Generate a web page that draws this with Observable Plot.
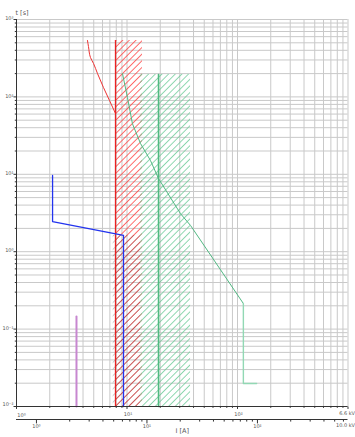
<!DOCTYPE html>
<html><head><meta charset="utf-8">
<script src="https://cdn.jsdelivr.net/npm/d3@7"></script>
<script src="https://cdn.jsdelivr.net/npm/@observablehq/plot@0.6"></script>
<style>body{margin:0;background:#fff} svg{display:block}</style>
</head><body><div id="chart"></div>
<script>
// ---- data (current I [A] at 6.6 kV, time t [s]) ----
const redCurve = [
  {i: 4.39, t: 535}, {i: 4.48, t: 448}, {i: 4.67, t: 323}, {i: 4.98, t: 270},
  {i: 5.41, t: 200}, {i: 6.13, t: 132}, {i: 6.94, t: 90}, {i: 7.87, t: 61}
];
const redLine = [{i: 7.87, t: 535}, {i: 7.87, t: 0.01}];
const redBand = [{i1: 7.87, i2: 13.8, t1: 0.01, t2: 535}];

const greenCurve = [
  {i: 9.1, t: 200}, {i: 10.1, t: 98}, {i: 11.2, t: 45}, {i: 13.25, t: 25},
  {i: 16.3, t: 15.1}, {i: 19.3, t: 8.8}, {i: 30.5, t: 3.1}, {i: 37.6, t: 2.18},
  {i: 113, t: 0.214}
];
const greenTail = [{i: 113, t: 0.214}, {i: 113, t: 0.0198}, {i: 149, t: 0.0198}];
const greenLine = [{i: 19.3, t: 195}, {i: 19.3, t: 0.01}];
const greenBand = [{i1: 13.25, i2: 37.6, t1: 0.01, t2: 195}];

const blueCurve = [
  {i: 2.12, t: 9.65}, {i: 2.12, t: 2.45}, {i: 9.3, t: 1.62}, {i: 9.3, t: 0.01}
];
const darkBand = [{i1: 7.5, i2: 13.25, t1: 0.01, t2: 1.62}];

const purpleLine = [{i: 3.49, t: 0.146}, {i: 3.49, t: 0.01}];

// ---- axes ----
const xDecades = [1, 10, 100, 1000];
const xLabels = ["10⁰", "10¹", "10²", "6.6 kV"];
const yDecades = [0.01, 0.1, 1, 10, 100, 1000];
const yLabels = ["10⁻²", "10⁻¹", "10⁰", "10¹", "10²", "10³"];
const subdivisions = [2, 3, 4, 5, 6, 7, 8, 9];
const secDecades = [1, 10, 100];
const secLabels = ["10⁰", "10¹", "10²"];
const secEndLabel = "10.0 kV";
const voltRatio = 10.0 / 6.6; // secondary axis (10 kV) vs primary (6.6 kV)

const xMinor = xDecades.slice(0, 3).flatMap(d => subdivisions.map(s => d * s));
const yMinor = yDecades.slice(0, 5).flatMap(d => subdivisions.map(s => d * s));
const secMinor = [1, 10, 100].flatMap(d => subdivisions.map(s => d * s)).filter(v => v * voltRatio <= 1000);

const defs = () => {
  const g = d3.create("svg:defs");
  const mk = (id, color, w, op) => {
    const p = g.append("pattern").attr("id", id).attr("patternUnits", "userSpaceOnUse")
      .attr("width", 4.7).attr("height", 4.7).attr("patternTransform", "rotate(45)");
    p.append("line").attr("x1", 2.35).attr("y1", -1).attr("x2", 2.35).attr("y2", 5.7)
      .attr("stroke", color).attr("stroke-width", w).attr("stroke-opacity", op);
  };
  mk("hatchRed", "#ff4040", 0.9, 0.85);
  mk("hatchGreen", "#6ccb98", 0.9, 0.85);
  mk("hatchDark", "#222222", 0.7, 0.35);
  return g.node();
};

const grid = "#c9c9c9";
const txt = "#555";

const chart = Plot.plot({
  width: 355, height: 437,
  marginLeft: 16, marginRight: 7.5, marginTop: 19, marginBottom: 31,
  x: {type: "log", domain: [1, 1000], axis: null},
  y: {type: "log", domain: [0.01, 1000], axis: null},
  style: {fontFamily: "DejaVu Sans, sans-serif", fontSize: "5px", background: "#fff"},
  marks: [
    defs,
    Plot.ruleX(xMinor.concat(xDecades), {stroke: grid, strokeWidth: 1}),
    Plot.ruleY(yMinor.concat(yDecades), {stroke: grid, strokeWidth: 1}),
    // bands
    Plot.rect(redBand, {x1: "i1", x2: "i2", y1: "t1", y2: "t2", fill: "url(#hatchRed)"}),
    Plot.rect(greenBand, {x1: "i1", x2: "i2", y1: "t1", y2: "t2", fill: "url(#hatchGreen)"}),
    Plot.rect(darkBand, {x1: "i1", x2: "i2", y1: "t1", y2: "t2", fill: "url(#hatchDark)"}),
    // curves
    Plot.line(redCurve, {x: "i", y: "t", stroke: "#ee3333", strokeWidth: 1, curve: "monotone-y"}),
    Plot.line(redLine, {x: "i", y: "t", stroke: "#e82222", strokeWidth: 1.3}),
    Plot.line(greenLine, {x: "i", y: "t", stroke: "#4fba80", strokeWidth: 1.6}),
    Plot.line(greenCurve, {x: "i", y: "t", stroke: "#52b883", strokeWidth: 1}),
    Plot.line(greenTail, {x: "i", y: "t", stroke: "#92d8b4", strokeWidth: 1.4}),
    Plot.line(blueCurve, {x: "i", y: "t", stroke: "#2233ee", strokeWidth: 1.3}),
    Plot.line(purpleLine, {x: "i", y: "t", stroke: "#c787d0", strokeWidth: 2}),
    // y axis
    Plot.ruleX([1], {stroke: "#333", strokeWidth: 1}),
    Plot.link(yMinor, {x1: 0.965, x2: 1, y1: d => d, y2: d => d, stroke: "#333", strokeWidth: 1}),
    Plot.link(yDecades, {x1: 0.94, x2: 1, y1: d => d, y2: d => d, stroke: "#333", strokeWidth: 1}),
    Plot.text(yDecades.slice(1), {x: 1, y: d => d, text: (d, i) => yLabels[i + 1], textAnchor: "end", dx: -3, dy: -1, fill: txt, fontSize: 5}),
    Plot.text([yLabels[0]], {x: 1, y: yDecades[0], textAnchor: "end", dx: -3, dy: -2, fill: txt, fontSize: 5}),
    Plot.text(["t [s]"], {frameAnchor: "top-left", dx: -1, dy: -9, textAnchor: "start", fill: txt, fontSize: 6.5}),
    // primary x axis
    Plot.ruleY([0.01], {stroke: "#333", strokeWidth: 1}),
    Plot.link(xMinor, {x1: d => d, x2: d => d, y1: 0.01, y2: 0.0096, stroke: "#333"}),
    Plot.link(xDecades, {x1: d => d, x2: d => d, y1: 0.01, y2: 0.0093, stroke: "#333"}),
    Plot.text([xLabels[0]], {x: xDecades[0], y: 0.01, dy: 9, dx: 5, fill: txt, fontSize: 5}),
    Plot.text(xDecades.slice(1, 3), {x: d => d, y: 0.01, text: (d, i) => xLabels[i + 1], dy: 8, dx: 1, fill: txt, fontSize: 5}),
    Plot.text([xLabels[3]], {x: 1000, y: 0.01, dy: 7, dx: 7, textAnchor: "end", fill: txt, fontSize: 5}),
    // secondary x axis (10 kV)
    Plot.ruleY([0.01], {dy: 13, stroke: "#333", strokeWidth: 1}),
    Plot.link(secMinor, {x1: d => d * voltRatio, x2: d => d * voltRatio, y1: 0.01, y2: 0.0094, dy: 13, stroke: "#333"}),
    Plot.link(secDecades, {x1: d => d * voltRatio, x2: d => d * voltRatio, y1: 0.01, y2: 0.0089, dy: 13, stroke: "#333"}),
    Plot.text(secDecades, {x: d => d * voltRatio, y: 0.01, text: (d, i) => secLabels[i], dy: 20, fill: txt, fontSize: 5}),
    Plot.text([secEndLabel], {x: 1000, y: 0.01, dy: 19, dx: 7, textAnchor: "end", fill: txt, fontSize: 5}),
    Plot.text(["I [A]"], {frameAnchor: "bottom", dy: 26, fill: txt, fontSize: 6.5})
  ]
});
document.getElementById("chart").appendChild(chart);
</script>
</body></html>
